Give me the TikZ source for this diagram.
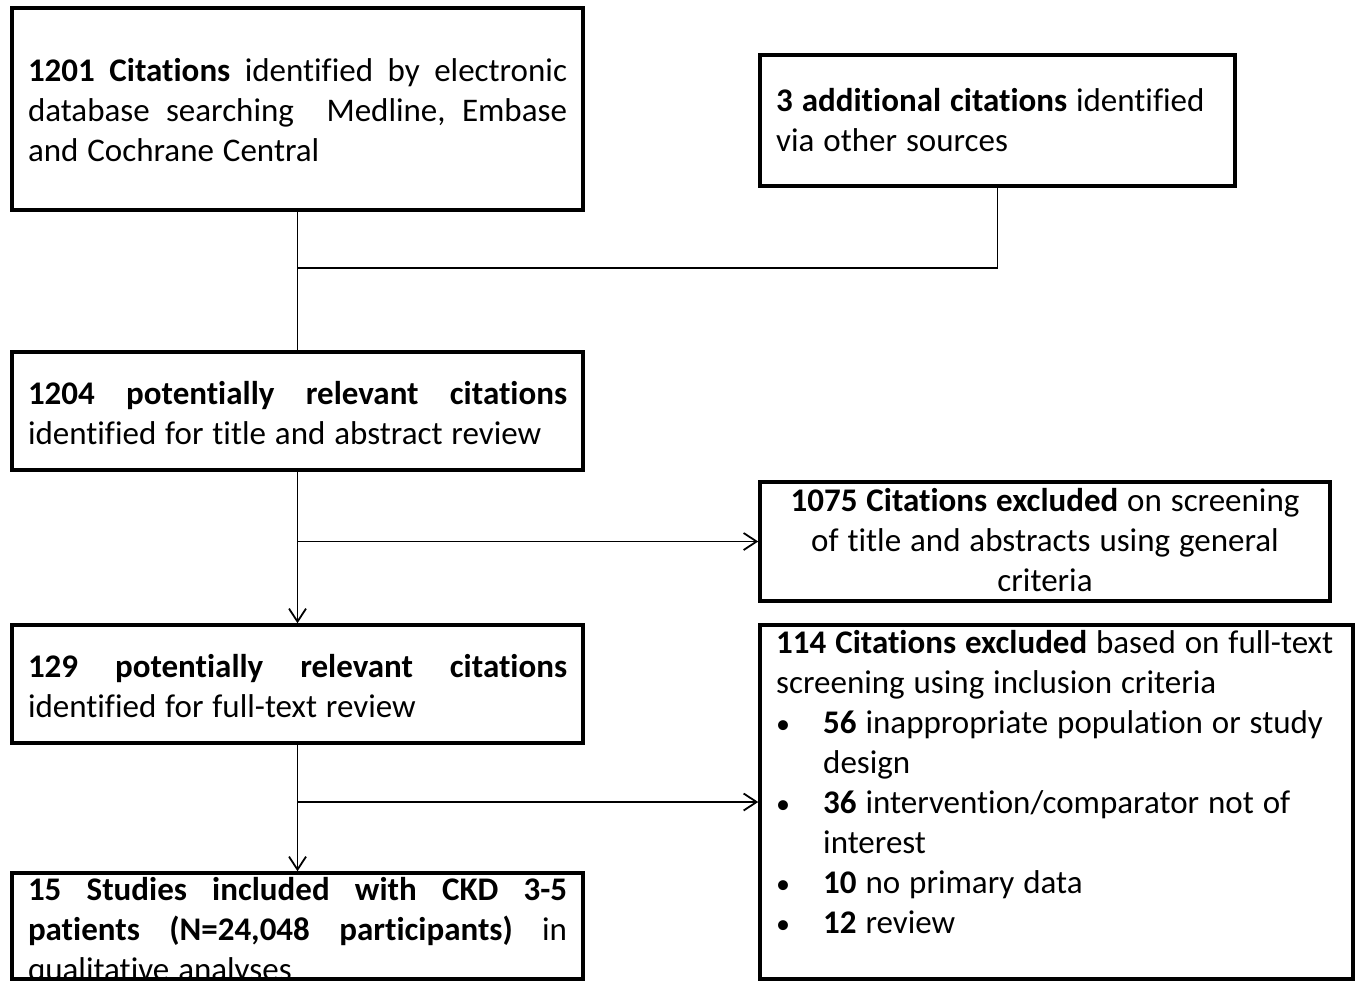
\documentclass[tikz,border=0pt]{standalone}
\usepackage{fontspec}
\setmainfont{Carlito}[Ligatures={NoCommon}]
\usetikzlibrary{arrows.meta}
\newcommand\jline[1]{\leavevmode\hbox to 539pt{#1}}
\newcommand\bul{\makebox[47pt][l]{\hspace*{0pt}\scalebox{0.85}{•}}}
\tikzset{
  box/.style={draw=black, line width=3.5pt, inner sep=0pt, rectangle},
  txt/.style={inner sep=0pt, font=\fontsize{33pt}{40pt}\selectfont,
              execute at begin node={\spaceskip=0.27em\xspaceskip=0.27em\strut},
              execute at end node=\strut},
  conn/.style={draw=black, line width=1.8pt},
  arr/.style={conn, -{Straight Barb[length=13pt,width=17pt]}}
}
\begin{document}
\begin{tikzpicture}[x=1pt,y=-1pt]
\useasboundingbox (0,0) rectangle (1356,981);
\clip (0,0) rectangle (1356,981);
\fill[white] (0,0) rectangle (1356,981);
% boxes
\node[box, minimum width=571pt, minimum height=202pt] (b1) at (297.5,109) {};
\node[box, minimum width=475pt, minimum height=131pt] (b2) at (997.5,120.5) {};
\node[box, minimum width=571pt, minimum height=118pt] (b3) at (297.5,411) {};
\node[box, minimum width=570pt, minimum height=119pt] (b4) at (1045,541.5) {};
\node[box, minimum width=571pt, minimum height=118pt] (b5) at (297.5,684) {};
\node[box, minimum width=593pt, minimum height=354pt] (b6) at (1056.5,802) {};
\node[box, minimum width=571pt, minimum height=106pt] (b7) at (297.5,926) {};
% texts
\node[txt, text width=539pt, align=left] (t1) at (297.5,114) {%
\jline{\textbf{1201}\hfill\textbf{Citations}\hfill identified\hfill by\hfill electronic}\\
\jline{database\hfill searching\hfill\hfill Medline,\hfill Embase}\\
and Cochrane Central};
\node[txt, align=left, anchor=west] (t2) at (776,126) {%
\textbf{3 additional citations} identified\\
via other sources};
\node[txt, text width=539pt, align=left] (t3) at (297.5,416) {%
\jline{\textbf{1204}\hfill\textbf{potentially}\hfill\textbf{relevant}\hfill\textbf{citations}}\\
identified for title and abstract review};
\node[txt, align=center] (t4) at (1045,546) {%
\textbf{1075 Citations excluded} on screening\\
of title and abstracts using general\\
criteria};
\node[txt, text width=539pt, align=left] (t5) at (297.5,689) {%
\jline{\textbf{129}\hfill\textbf{potentially}\hfill\textbf{relevant}\hfill\textbf{citations}}\\
identified for full-text review};
\node[txt, align=left, anchor=west] (t6) at (776,788) {%
\textbf{114 Citations excluded} based on full-text\\
screening using inclusion criteria\\
\bul\textbf{56} inappropriate population or study\\
\hspace*{47pt}design\\
\bul\textbf{36} intervention/comparator not of\\
\hspace*{47pt}interest\\
\bul\textbf{10} no primary data\\
\bul\textbf{12} review};
\node[txt, text width=539pt, align=left] (t7) at (297.5,932) {%
\jline{\textbf{15}\hfill\textbf{Studies}\hfill\textbf{included}\hfill\textbf{with}\hfill\textbf{CKD}\hfill\textbf{3-5}}\\
\jline{\textbf{patients}\hfill\textbf{(N=24,048}\hfill\textbf{participants)}\hfill in}\\
qualitative analyses};
% redraw bottom edge of b7 over the text
\draw[line width=3.5pt] (b7.south west) -- (b7.south east);
% connectors
\coordinate (j1) at (297.5,268);
\coordinate (j2) at (297.5,541.5);
\coordinate (j3) at (297.5,802);
\draw[conn] (b1.south) -- (b3.north);
\draw[conn] (b2.south) |- (j1);
\draw[arr] (b3.south) -- (b5.north);
\draw[arr] (j2) -- (b4.west);
\draw[arr] (b5.south) -- (b7.north);
\draw[arr] (j3) -- (b6.west);
\end{tikzpicture}
\end{document}
